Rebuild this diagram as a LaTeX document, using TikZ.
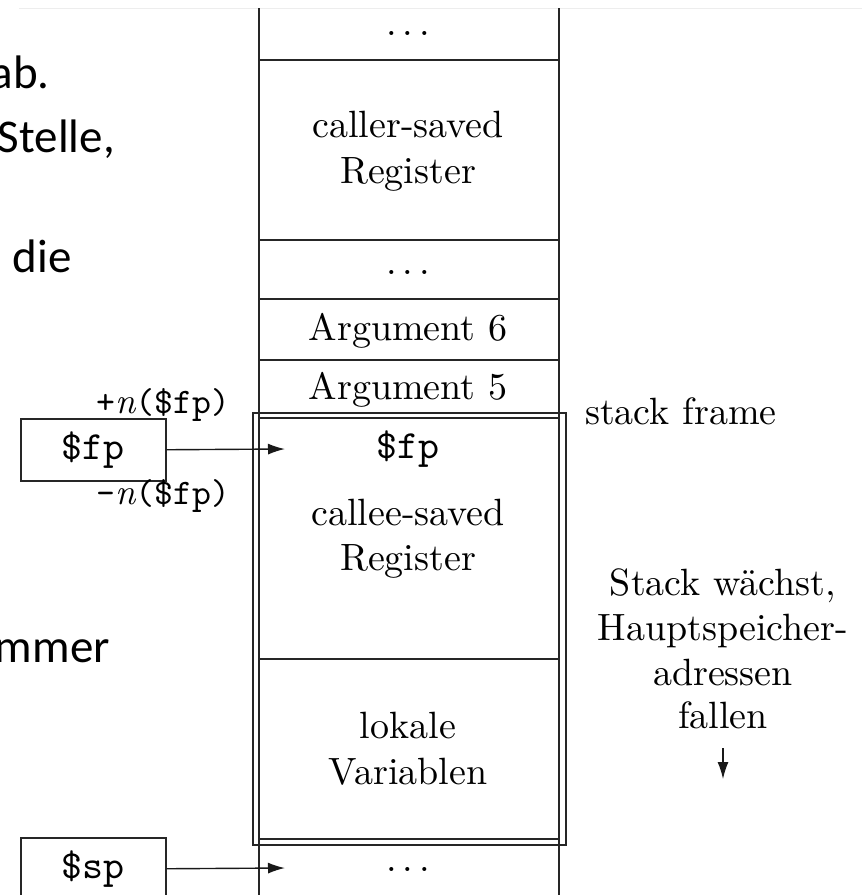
\documentclass[tikz,border=0pt]{standalone}
\usepackage{fontspec}
\setmainfont{lmroman10-regular.otf}[ItalicFont=lmroman10-italic.otf, BoldFont=lmroman10-bold.otf]
\newfontfamily\slidefont{Carlito}
\newfontfamily\monofnt{lmmono10-regular.otf}
\usetikzlibrary{arrows.meta}
\newcommand{\wdots}{.\kern6pt.\kern6pt.}
\begin{document}
\begin{tikzpicture}[x=1pt,y=-1pt,
  col/.style={line width=1.8pt, draw=black!85},
  sepline/.style={line width=1.8pt, draw=black!85},
  frm/.style={line width=1.1pt, draw=black!85},
  lbl/.style={font=\fontsize{38}{45}\selectfont, inner sep=0, anchor=base},
  ttbig/.style={font=\monofnt\fontsize{40}{46}\selectfont, inner sep=0},
  ttsmall/.style={font=\monofnt\fontsize{36}{42}\selectfont, inner sep=0, anchor=base east},
  slide/.style={font=\slidefont\fontsize{47}{56}\selectfont, inner sep=0, anchor=base east},
  regbox/.style={draw=black!85, line width=1.5pt, minimum width=145pt, minimum height=62pt, inner sep=0, font=\monofnt\fontsize{40}{46}\selectfont},
  arr/.style={line width=1.4pt, draw=black!90, -{Latex[length=17pt,width=11pt]}}]

\useasboundingbox (0,0) rectangle (862,895);

% faint slide edge
\draw[black!7, line width=0.8pt] (19,8) -- (862,8);

% slide text fragments
\node[slide] (t1) at (50,88) {ab.};
\node[slide] (t2) at (115,152) {Stelle,};
\node[slide] (t3) at (72,272) {die};
\node[slide] (t4) at (110,662) {mmer};

% stack column
\draw[col] (259,8) -- (259,900);
\draw[col] (559,8) -- (559,900);
\foreach \yy in {60,299,360,418,659}
  \draw[sepline] (259,\yy) -- (559,\yy);
\draw[sepline, line width=2.4pt] (259,240) -- (559,240);

% stack frame (double outline)
\draw[frm] (253,413) rectangle (566,845);
\draw[frm] (259,839) -- (559,839);

% cell texts
\node[lbl] (d1) at (408,35) {\wdots};
\node[lbl] (cs1) at (408,137) {caller-saved};
\node[lbl] (cs2) at (408,183) {Register};
\node[lbl] (d2) at (408,274) {\wdots};
\node[lbl] (a6) at (408,340) {Argument 6};
\node[lbl] (a5) at (408,399) {Argument 5};
\node[ttbig, anchor=base] (fpc) at (408,458) {\$fp};
\node[lbl] (ce1) at (408,525) {callee-saved};
\node[lbl] (ce2) at (408,570) {Register};
\node[lbl] (lv1) at (408,738) {lokale};
\node[lbl] (lv2) at (408,784) {Variablen};
\node[lbl] (d3) at (408,871) {\wdots};

% right labels
\node[lbl, anchor=base west] (sf) at (585,424) {stack frame};
\node[lbl] (g1) at (723,595) {Stack wächst,};
\node[lbl] (g2) at (723,640) {Hauptspeicher-};
\node[lbl] (g3) at (723,685) {adressen};
\node[lbl] (g4) at (723,728) {fallen};
\coordinate (gs) at (723,748);
\coordinate (ge) at (723,779);
\draw[arr] (gs) -- (ge);

% registers
\node[regbox, anchor=north west] (fp) at (20,418) {\$fp};
\node[ttsmall] (plus) at (230,413) {+{\rmfamily\itshape n}(\$fp)};
\node[ttsmall] (minus) at (230,504) {-{\rmfamily\itshape n}(\$fp)};
\node[regbox, anchor=north west] (sp) at (20,837) {\$sp};

\coordinate (fpt) at (285,449);
\coordinate (spt) at (285,868);
\draw[arr] (fp.east) -- (fpt);
\draw[arr] (sp.east) -- (spt);
\end{tikzpicture}
\end{document}
